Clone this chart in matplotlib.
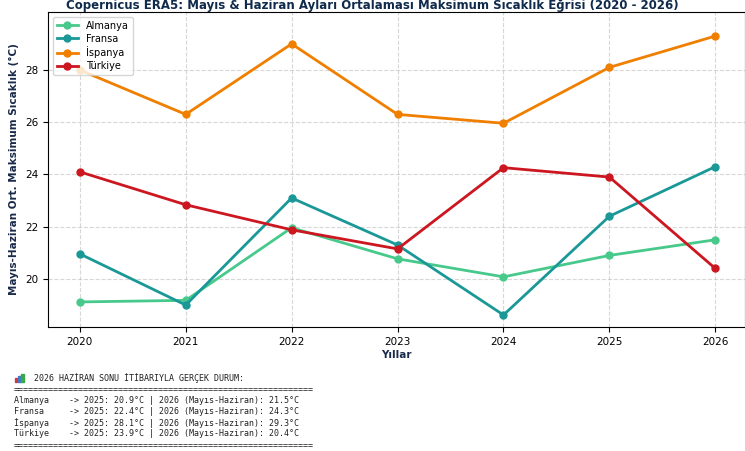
import matplotlib.pyplot as plt

# Years and country values
years = [2020, 2021, 2022, 2023, 2024, 2025, 2026]
almanya = [19.12, 19.18, 21.96, 20.77, 20.08, 20.9, 21.5]
fransa = [20.96, 19.0, 23.1, 21.3, 18.62, 22.4, 24.3]
ispanya = [28.0, 26.3, 29.0, 26.3, 25.96, 28.1, 29.3]
turkiye = [24.1, 22.84, 21.88, 21.15, 24.26, 23.9, 20.4]

names = ["Almanya", "Fransa", "İspanya", "Türkiye"]
series = [almanya, fransa, ispanya, turkiye]
colors = ["#48c98c", "#1a9898", "#f07f00", "#cc1620"]

fig = plt.figure(figsize=(7.45, 4.51), dpi=100)
ax = fig.add_axes([48/745, 1 - 327/451, 697/745, 315/451])

for name, vals, c in zip(names, series, colors):
    ax.plot(years, vals, marker='o', markersize=5, linewidth=2, color=c, label=name)

ax.set_ylim(18.16, 30.22)
ax.set_xlim(2019.7, 2026.28)
ax.set_xticks(years)
ax.set_yticks([20, 22, 24, 26, 28])
ax.tick_params(labelsize=7.5)
ax.grid(True, linestyle='--', alpha=0.5)
ax.set_xlabel("Yıllar", fontsize=7.5, fontweight='bold', color='#1a2a4a', labelpad=2)
ax.set_ylabel("Mayıs-Haziran Ort. Maksimum Sıcaklık (°C)", fontsize=7.5,
              fontweight='bold', color='#1a2a4a', labelpad=4)
fig.text(0.5, 1 - 6/451,
         "Copernicus ERA5: Mayıs & Haziran Ayları Ortalaması Maksimum Sıcaklık Eğrisi (2020 - 2026)",
         fontsize=8.5, fontweight='bold', color='#0f2a4a', ha='center', va='center')
ax.legend(loc='upper left', fontsize=7, handlelength=2.2, borderpad=0.4, labelspacing=0.3)

# Printed summary below the chart
lines = ["    2026 HAZİRAN SONU İTİBARIYLA GERÇEK DURUM:", "=" * 60]
for name, vals in zip(names, series):
    lines.append(f"{name:<10} -> 2025: {vals[5]:.1f}°C | 2026 (Mayıs-Haziran): {vals[6]:.1f}°C")
lines.append("=" * 60)
for i, s in enumerate(lines):
    fig.text(14/745, 1 - (378 + i * 11.2)/451, s, family='DejaVu Sans Mono',
             fontsize=6.0, va='center', color='#222222')

# small bar icon in place of the chart emoji
for j, (h, c) in enumerate(zip([0.5, 0.8, 1.0], ["#d23a3a", "#3a7ad2", "#3aa84a"])):
    fig.patches.append(plt.Rectangle(((15 + j * 3)/745, 1 - 382/451), 2.5/745, 8*h/451,
                                     transform=fig.transFigure, color=c))

fig.savefig("out.png", dpi=100)
